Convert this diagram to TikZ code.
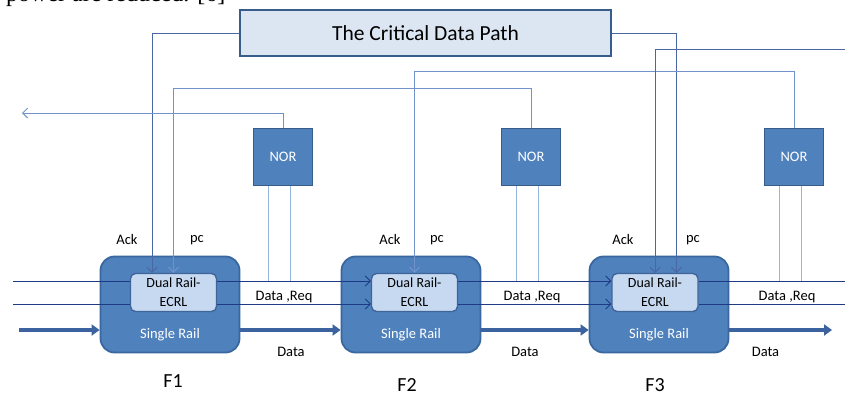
\documentclass[tikz,border=0pt]{standalone}
\usepackage{fontspec}
\setmainfont{Carlito}
\newfontfamily\bodyserif{Liberation Serif}
\usetikzlibrary{arrows.meta}
\definecolor{blockfill}{HTML}{4F81BD}
\definecolor{blockline}{HTML}{3A679E}
\definecolor{corefill}{HTML}{C6D9F1}
\definecolor{coreline}{HTML}{3F6598}
\definecolor{pathfill}{HTML}{DCE6F2}
\definecolor{pathline}{HTML}{385D8A}
\definecolor{navy}{HTML}{1F3A85}
\definecolor{wire}{HTML}{4A66A3}
\definecolor{norwire}{HTML}{7193CA}
\definecolor{tapwire}{HTML}{95B5DE}
\definecolor{bus}{HTML}{3C62A0}
\begin{document}
\begin{tikzpicture}[x=1pt,y=-1pt,
  stage/.style={draw=blockline,fill=blockfill,line width=1.8pt,rounded corners=14pt,
    minimum width=139pt,minimum height=96pt,inner sep=0pt},
  core/.style={draw=coreline,fill=corefill,line width=1.4pt,rounded corners=5pt,
    minimum width=86pt,minimum height=38pt,inner sep=0pt,align=center,
    font=\fontsize{14}{19}\selectfont},
  norgate/.style={draw=pathline,fill=blockfill,line width=1.8pt,minimum width=59pt,
    minimum height=57pt,inner sep=0pt,text=white,font=\fontsize{14.5}{17}\selectfont},
  critbox/.style={draw=pathline,fill=pathfill,line width=2.4pt,minimum width=371pt,
    minimum height=46pt,inner sep=0pt,font=\fontsize{21.5}{24}\selectfont},
  lbl/.style={inner sep=0pt,font=\fontsize{14.5}{17}\selectfont},
  whitelbl/.style={lbl,text=white},
  stagename/.style={inner sep=0pt,font=\fontsize{20}{22}\selectfont},
  barb/.style={-{Straight Barb[length=5pt,width=10pt]}},
  ctrl/.style={draw=wire,line width=0.9pt},
  norout/.style={draw=norwire,line width=1pt},
  nortap/.style={draw=tapwire,line width=1pt},
  rail/.style={draw=navy,line width=0.9pt},
  busline/.style={draw=bus,line width=4pt,-{Triangle[length=8pt,width=11pt]}},
]
\useasboundingbox (0,0) rectangle (845,399);
\clip (0,0) rectangle (845,399);

% text line of the surrounding page
\node[anchor=base west,inner sep=0pt,font=\bodyserif\fontsize{24}{26}\selectfont] (pagetext) at (6,1.5) {power are reduced. [6]};

% critical data path controller
\node[critbox] (cdp) at (425.5,33) {The Critical Data Path};

% pipeline stages
\node[stage] (f1) at (170,304.5) {};
\node[stage] (f2) at (411,304.5) {};
\node[stage] (f3) at (659,304.5) {};
\node[core] (d1) at (173.5,292.5) {Dual Rail-\\ECRL};
\node[core] (d2) at (414.5,292.5) {Dual Rail-\\ECRL};
\node[core] (d3) at (655,292.5) {Dual Rail-\\ECRL};
\node[whitelbl] (s1) at (170,334.5) {Single Rail};
\node[whitelbl] (s2) at (411,334.5) {Single Rail};
\node[whitelbl] (s3) at (659,334.5) {Single Rail};

% completion detectors
\node[norgate] (n1) at (283,157) {NOR};
\node[norgate] (n2) at (531,157) {NOR};
\node[norgate] (n3) at (794,157) {NOR};

% free ends
\coordinate (ackout) at (22,113);
\coordinate (ackin) at (850,49);
\coordinate (ra) at (13,281);
\coordinate (rb) at (13,304);
\coordinate (rae) at (852,281);
\coordinate (rbe) at (852,304);
\coordinate (din) at (19,330);
\coordinate (dout) at (832,330);

% control connections
\draw[ctrl,barb] (cdp.west) -| ([xshift=-21.5pt]d1.north);
\draw[ctrl,barb] (cdp.east) -| ([xshift=21.5pt]d3.north);
\draw[norout,barb] (n2.north) -- ++(0,-39) -| (d1.north);
\draw[norout,barb] (n3.north) -- ++(0,-56) -| (d2.north);
\draw[norout,barb] (n1.north) |- (ackout);
\draw[ctrl,barb] (ackin) -| (d3.north);

% dual-rail data / request wires
\draw[rail] (ra) -- (ra -| d1.west);
\draw[rail] (rb) -- (rb -| d1.west);
\draw[rail,barb] (d1.east |- ra) -- (d2.west |- ra);
\draw[rail,barb] (d1.east |- rb) -- (d2.west |- rb);
\draw[rail,barb] (d2.east |- ra) -- (d3.west |- ra);
\draw[rail,barb] (d2.east |- rb) -- (d3.west |- rb);
\draw[rail,barb] (d3.east |- ra) -- (rae);
\draw[rail,barb] (d3.east |- rb) -- (rbe);

% NOR inputs tapped from the wires
\draw[nortap] ([xshift=-15pt]n1.south) -- ([xshift=-15pt]n1.south |- ra);
\draw[nortap] ([xshift=7.5pt]n1.south) -- ([xshift=7.5pt]n1.south |- ra);
\draw[nortap] ([xshift=-14.5pt]n2.south) -- ([xshift=-14.5pt]n2.south |- ra);
\draw[nortap] ([xshift=7.5pt]n2.south) -- ([xshift=7.5pt]n2.south |- ra);
\draw[nortap] ([xshift=-14.5pt]n3.south) -- ([xshift=-14.5pt]n3.south |- ra);
\draw[nortap] ([xshift=7pt]n3.south) -- ([xshift=7pt]n3.south |- ra);

% single-rail data bus
\draw[busline] (din) -- (din -| f1.west);
\draw[busline] (f1.east |- din) -- (f2.west |- din);
\draw[busline] (f2.east |- din) -- (f3.west |- din);
\draw[busline] (f3.east |- din) -- (dout);

% labels
\node[lbl] (ack1) at (127,240) {Ack};
\node[lbl] (pc1) at (197,240) {pc};
\node[lbl] (ack2) at (390,240) {Ack};
\node[lbl] (pc2) at (437,240) {pc};
\node[lbl] (ack3) at (623,240) {Ack};
\node[lbl] (pc3) at (693,240) {pc};
\node[lbl] (dr1) at (284,297) {Data ,Req};
\node[lbl] (dr2) at (532,297) {Data ,Req};
\node[lbl] (dr3) at (787,297) {Data ,Req};
\node[lbl] (dt1) at (291,352) {Data};
\node[lbl] (dt2) at (525,352) {Data};
\node[lbl] (dt3) at (765.5,352) {Data};
\node[stagename] (t1) at (173,381) {F1};
\node[stagename] (t2) at (407,385) {F2};
\node[stagename] (t3) at (655,385) {F3};
\end{tikzpicture}
\end{document}
